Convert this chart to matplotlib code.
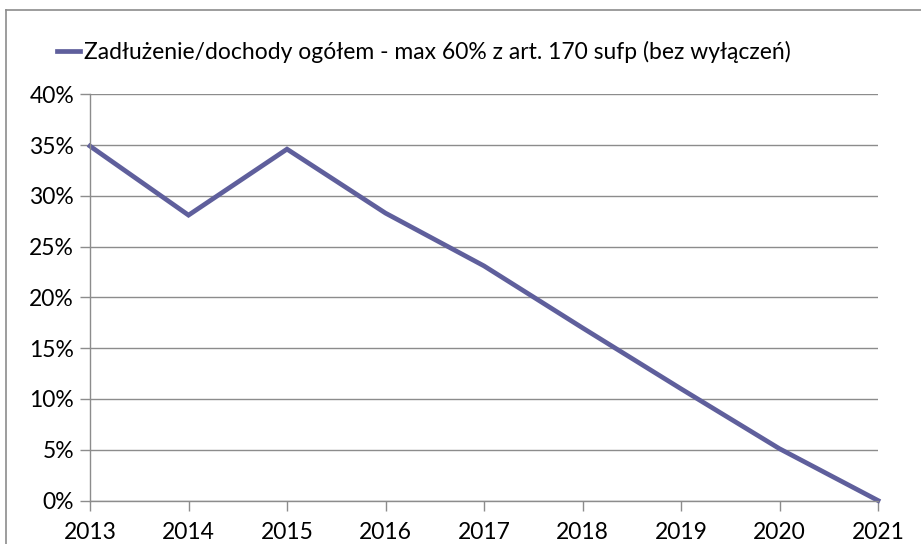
import matplotlib
matplotlib.use("Agg")
import matplotlib.pyplot as plt
from matplotlib.lines import Line2D
from matplotlib.ticker import FuncFormatter, MultipleLocator

years = [2013, 2014, 2015, 2016, 2017, 2018, 2019, 2020, 2021]
ratio = [34.9, 28.1, 34.6, 28.3, 23.1, 17.0, 11.0, 5.1, 0.0]
series_label = "Zadłużenie/dochody ogółem - max 60% z art. 170 sufp (bez wyłączeń)"

plt.rcParams['font.family'] = ['Lato', 'DejaVu Sans']

W, H = 921, 544
fig = plt.figure(figsize=(W / 100, H / 100), dpi=100)
ax = fig.add_axes([90 / W, 1 - 500.5 / H, (878 - 90) / W, (500.5 - 94.3) / H])

line_color = '#5f5f9c'
grid_color = '#8c8c8c'

ax.plot(years, ratio, color=line_color, lw=3.4, solid_joinstyle='miter', label=series_label, clip_on=False)

ax.set_xlim(years[0], years[-1])
ax.set_ylim(0, 40)
ax.yaxis.set_major_locator(MultipleLocator(5))
ax.yaxis.set_major_formatter(FuncFormatter(lambda v, p: f"{int(round(v))}%"))
ax.set_xticks(years)
ax.set_xticklabels([str(y) for y in years])

ax.grid(axis='y', color=grid_color, lw=1)
ax.set_axisbelow(True)
for s in ['top', 'right']:
    ax.spines[s].set_visible(False)
for s in ['left', 'bottom']:
    ax.spines[s].set_color(grid_color)
    ax.spines[s].set_linewidth(1)
ax.tick_params(axis='both', colors=grid_color, labelcolor='black', labelsize=16.5, length=7.5, width=1)
ax.tick_params(axis='y', pad=4)
ax.tick_params(axis='x', pad=8)

leg = fig.legend(handles=[Line2D([], [], color=line_color, lw=3.4)], labels=[series_label],
                 loc='center left', bbox_to_anchor=(57 / W, 1 - 52 / H), frameon=False,
                 fontsize=16.5, handlelength=1.0, handletextpad=0.2, borderaxespad=0, borderpad=0)

# chart border
fig.add_artist(Line2D([5.5 / W, 5.5 / W], [1 - 9.5 / H, 0], transform=fig.transFigure, color='#8c8c8c', lw=1.2))
fig.add_artist(Line2D([5.5 / W, 1], [1 - 9.5 / H, 1 - 9.5 / H], transform=fig.transFigure, color='#8c8c8c', lw=1.2))

fig.savefig("out.png", dpi=100)
